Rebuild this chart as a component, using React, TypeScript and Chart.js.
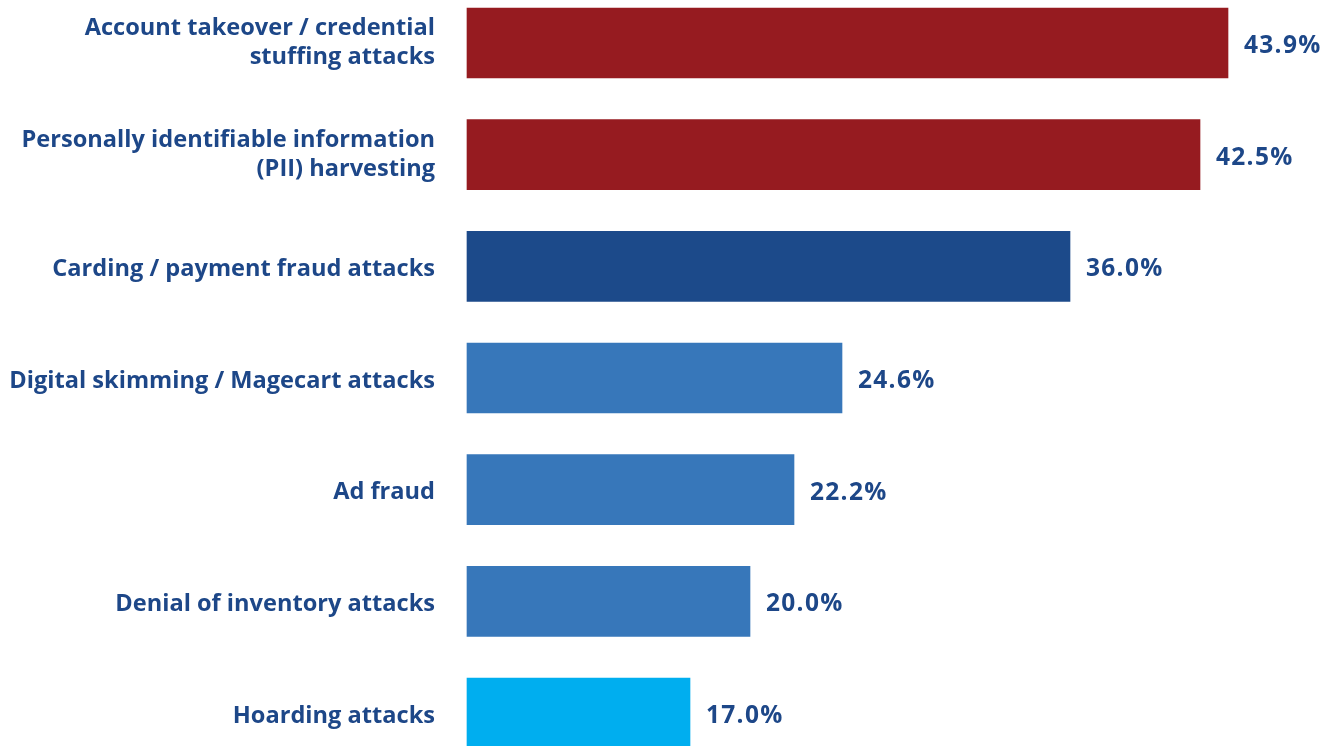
import React, { useEffect, useRef } from "react";
import { Chart, registerables } from "chart.js";

Chart.register(...registerables);

const categories: (string | string[])[] = [
  ["Account takeover / credential", "stuffing attacks"],
  ["Personally identifiable information", "(PII) harvesting"],
  "Carding / payment fraud attacks",
  "Digital skimming / Magecart attacks",
  "Ad fraud",
  "Denial of inventory attacks",
  "Hoarding attacks",
];
const values = [43.9, 42.5, 36.0, 24.6, 22.2, 20.0, 17.0];
const barColors = ["#961B20", "#961B20", "#1C4A8A", "#3777BA", "#3777BA", "#3777BA", "#00AEEF"];
const valueLabels = ["43.9%", "42.5%", "36.0%", "24.6%", "22.2%", "20.0%", "17.0%"];
const X_MIN = 5.85;
const X_MAX = 49.0;

const TEXT_COLOR = "#1D4788";
const FONT_FAMILY = "'Open Sans', 'DejaVu Sans', sans-serif";

const valueLabelPlugin = {
  id: "valueLabels",
  beforeDraw(chart: any) {
    const yScale = chart.scales.y;
    if (!yScale || yScale._shifted) return;
    const items = yScale.getLabelItems(chart.chartArea);
    items.forEach((it: any) => {
      const single = !Array.isArray(it.label);
      if (single && it.options && it.options.translation) it.options.translation[1] += 3;
    });
    yScale._shifted = true;
  },
  afterDatasetsDraw(chart: any) {
    const ctx = chart.ctx;
    const meta = chart.getDatasetMeta(0);
    ctx.save();
    ctx.fillStyle = TEXT_COLOR;
    ctx.font = `700 24.5px ${FONT_FAMILY}`;
    (ctx as any).letterSpacing = "1.3px";
    ctx.textAlign = "left";
    ctx.textBaseline = "middle";
    meta.data.forEach((bar: any, i: number) => {
      ctx.fillText(valueLabels[i], bar.x + 16, bar.y + 3);
    });
    ctx.restore();
  },
};

export default function App() {
  const canvasRef = useRef<HTMLCanvasElement | null>(null);

  useEffect(() => {
    document.body.style.margin = "0";
    const canvas = canvasRef.current;
    if (!canvas) return;
    const chart = new Chart(canvas, {
      type: "bar",
      data: {
        labels: categories,
        datasets: [
          {
            data: values,
            base: X_MIN,
            backgroundColor: barColors,
            borderWidth: 0,
            barThickness: 70,
            clip: false as any,
          } as any,
        ],
      },
      options: {
        indexAxis: "y",
        animation: false,
        responsive: true,
        maintainAspectRatio: false,
        layout: { padding: { top: 43, bottom: 33, left: 0, right: 0 } },
        plugins: {
          legend: { display: false },
          tooltip: { enabled: false },
        },
        scales: {
          x: {
            display: false,
            min: X_MIN,
            max: X_MAX,
          },
          y: {
            offset: false,
            grid: { display: false, drawTicks: false },
            border: { display: false },
            afterFit: (scale: any) => {
              scale.width = 467;
              scale.paddingTop = 0;
              scale.paddingBottom = 0;
              scale._shifted = false;
            },
            ticks: {
              padding: 32,
              color: TEXT_COLOR,
              font: { family: FONT_FAMILY, weight: "bold", size: 23.6, lineHeight: 1.24 },
            },
          },
        },
      },
      plugins: [valueLabelPlugin],
    });
    return () => chart.destroy();
  }, []);

  return (
    <div style={{ position: "fixed", left: 0, top: 0, width: 1330, height: 746 }}>
      <canvas ref={canvasRef} />
    </div>
  );
}
